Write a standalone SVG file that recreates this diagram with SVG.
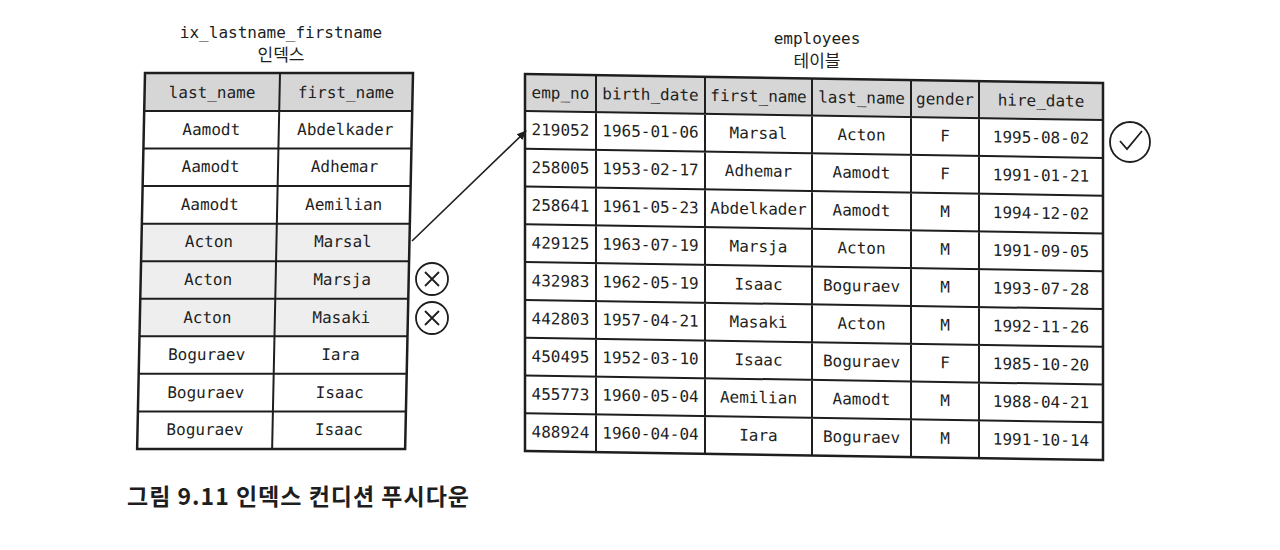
<svg xmlns="http://www.w3.org/2000/svg" width="1280" height="550" viewBox="0 0 1280 550">
<defs>
<style>
.t{font-family:"DejaVu Sans Mono","Liberation Mono",monospace;font-size:16px;fill:#1e1e1e;text-anchor:middle}
.k{font-family:"Noto Sans CJK KR","Noto Sans",sans-serif;font-size:17px;fill:#1e1e1e;text-anchor:middle}
.hd{fill:#d6d6d6}
.hl{fill:#eeeeee}
.ln{stroke:#1e1e1e;stroke-width:2;fill:none}
.out{stroke:#1e1e1e;stroke-width:2.5;fill:none}
.mk{stroke:#1e1e1e;stroke-width:1.8;fill:none}
</style>
<marker id="ah" markerWidth="10" markerHeight="10" refX="9" refY="5" orient="auto" markerUnits="userSpaceOnUse">
<path d="M0,1 L10,5 L0,9 Z" fill="#1e1e1e"/>
</marker>
</defs>
<rect width="1280" height="550" fill="#ffffff"/>

<g id="index-title">
<text class="t" x="281" y="38">ix_lastname_firstname</text>
<text class="k" x="281" y="61">인덱스</text>
</g>

<g id="index-table" transform="translate(145,73) skewX(-1.2)">
<rect x="0" y="0" width="268" height="38" class="hd"/>
<rect x="0" y="150.65" width="268" height="112.65" class="hl"/>
<rect x="0" y="0" width="268" height="376" fill="none" class="out"/>
<path class="ln" d="M135,0 V376 M0,38 H268 M0,75.55 H268 M0,113.1 H268 M0,150.65 H268 M0,188.2 H268 M0,225.75 H268 M0,263.3 H268 M0,300.85 H268 M0,338.4 H268"/>
<text class="t" x="67.5" y="25">last_name</text><text class="t" x="201.5" y="25">first_name</text>
<text class="t" x="67.5" y="62">Aamodt</text><text class="t" x="201.5" y="62">Abdelkader</text>
<text class="t" x="67.5" y="99.5">Aamodt</text><text class="t" x="201.5" y="99.5">Adhemar</text>
<text class="t" x="67.5" y="137">Aamodt</text><text class="t" x="201.5" y="137">Aemilian</text>
<text class="t" x="67.5" y="174.5">Acton</text><text class="t" x="201.5" y="174.5">Marsal</text>
<text class="t" x="67.5" y="212">Acton</text><text class="t" x="201.5" y="212">Marsja</text>
<text class="t" x="67.5" y="250">Acton</text><text class="t" x="201.5" y="250">Masaki</text>
<text class="t" x="67.5" y="287">Boguraev</text><text class="t" x="201.5" y="287">Iara</text>
<text class="t" x="67.5" y="325">Boguraev</text><text class="t" x="201.5" y="325">Isaac</text>
<text class="t" x="67.5" y="362.5">Boguraev</text><text class="t" x="201.5" y="362.5">Isaac</text>
</g>

<g id="employees-title">
<text class="t" x="817" y="44">employees</text>
<text class="k" x="817" y="67">테이블</text>
</g>

<g id="employees-table" transform="translate(525,74) skewY(0.9)">
<rect x="0" y="0" width="578" height="37" class="hd"/>
<rect x="0" y="0" width="578" height="377" fill="none" class="out"/>
<path class="ln" d="M71,0 V377 M180,0 V377 M287,0 V377 M386,0 V377 M454,0 V377 M0,37 H578 M0,74.8 H578 M0,112.6 H578 M0,150.3 H578 M0,188.1 H578 M0,225.9 H578 M0,263.7 H578 M0,301.4 H578 M0,339.2 H578"/>
<g>
<text class="t" x="35.5" y="24">emp_no</text><text class="t" x="125.5" y="24">birth_date</text><text class="t" x="233.5" y="24">first_name</text><text class="t" x="336.5" y="24">last_name</text><text class="t" x="420" y="24">gender</text><text class="t" x="516" y="24">hire_date</text>
</g>
<g>
<text class="t" x="35.5" y="61">219052</text><text class="t" x="125.5" y="61">1965-01-06</text><text class="t" x="233.5" y="61">Marsal</text><text class="t" x="336.5" y="61">Acton</text><text class="t" x="420" y="61">F</text><text class="t" x="516" y="61">1995-08-02</text>
<text class="t" x="35.5" y="98.8">258005</text><text class="t" x="125.5" y="98.8">1953-02-17</text><text class="t" x="233.5" y="98.8">Adhemar</text><text class="t" x="336.5" y="98.8">Aamodt</text><text class="t" x="420" y="98.8">F</text><text class="t" x="516" y="98.8">1991-01-21</text>
<text class="t" x="35.5" y="136.6">258641</text><text class="t" x="125.5" y="136.6">1961-05-23</text><text class="t" x="233.5" y="136.6">Abdelkader</text><text class="t" x="336.5" y="136.6">Aamodt</text><text class="t" x="420" y="136.6">M</text><text class="t" x="516" y="136.6">1994-12-02</text>
<text class="t" x="35.5" y="174.3">429125</text><text class="t" x="125.5" y="174.3">1963-07-19</text><text class="t" x="233.5" y="174.3">Marsja</text><text class="t" x="336.5" y="174.3">Acton</text><text class="t" x="420" y="174.3">M</text><text class="t" x="516" y="174.3">1991-09-05</text>
<text class="t" x="35.5" y="212.1">432983</text><text class="t" x="125.5" y="212.1">1962-05-19</text><text class="t" x="233.5" y="212.1">Isaac</text><text class="t" x="336.5" y="212.1">Boguraev</text><text class="t" x="420" y="212.1">M</text><text class="t" x="516" y="212.1">1993-07-28</text>
<text class="t" x="35.5" y="249.9">442803</text><text class="t" x="125.5" y="249.9">1957-04-21</text><text class="t" x="233.5" y="249.9">Masaki</text><text class="t" x="336.5" y="249.9">Acton</text><text class="t" x="420" y="249.9">M</text><text class="t" x="516" y="249.9">1992-11-26</text>
<text class="t" x="35.5" y="287.7">450495</text><text class="t" x="125.5" y="287.7">1952-03-10</text><text class="t" x="233.5" y="287.7">Isaac</text><text class="t" x="336.5" y="287.7">Boguraev</text><text class="t" x="420" y="287.7">F</text><text class="t" x="516" y="287.7">1985-10-20</text>
<text class="t" x="35.5" y="325.4">455773</text><text class="t" x="125.5" y="325.4">1960-05-04</text><text class="t" x="233.5" y="325.4">Aemilian</text><text class="t" x="336.5" y="325.4">Aamodt</text><text class="t" x="420" y="325.4">M</text><text class="t" x="516" y="325.4">1988-04-21</text>
<text class="t" x="35.5" y="363.2">488924</text><text class="t" x="125.5" y="363.2">1960-04-04</text><text class="t" x="233.5" y="363.2">Iara</text><text class="t" x="336.5" y="363.2">Boguraev</text><text class="t" x="420" y="363.2">M</text><text class="t" x="516" y="363.2">1991-10-14</text>
</g>
</g>

<g id="connectors">
<line x1="412" y1="241" x2="526" y2="131" stroke="#1e1e1e" stroke-width="1.6" marker-end="url(#ah)"/>
</g>

<g id="reject-1">
<circle cx="432" cy="279" r="16" class="mk"/>
<path class="mk" d="M425,272 L439,286 M439,272 L425,286"/>
</g>
<g id="reject-2">
<circle cx="432" cy="318" r="16" class="mk"/>
<path class="mk" d="M425,311 L439,325 M439,311 L425,325"/>
</g>
<g id="accept">
<circle cx="1130" cy="142" r="20" class="mk"/>
<path class="mk" d="M1120,141 L1127,149 L1142,131"/>
</g>

<g id="caption">
<text x="127" y="505" style="font-family:'Noto Sans CJK KR','Noto Sans',sans-serif;font-size:23px;font-weight:700;letter-spacing:1px;fill:#1e1e1e">그림 9.11 인덱스 컨디션 푸시다운</text>
</g>
</svg>
